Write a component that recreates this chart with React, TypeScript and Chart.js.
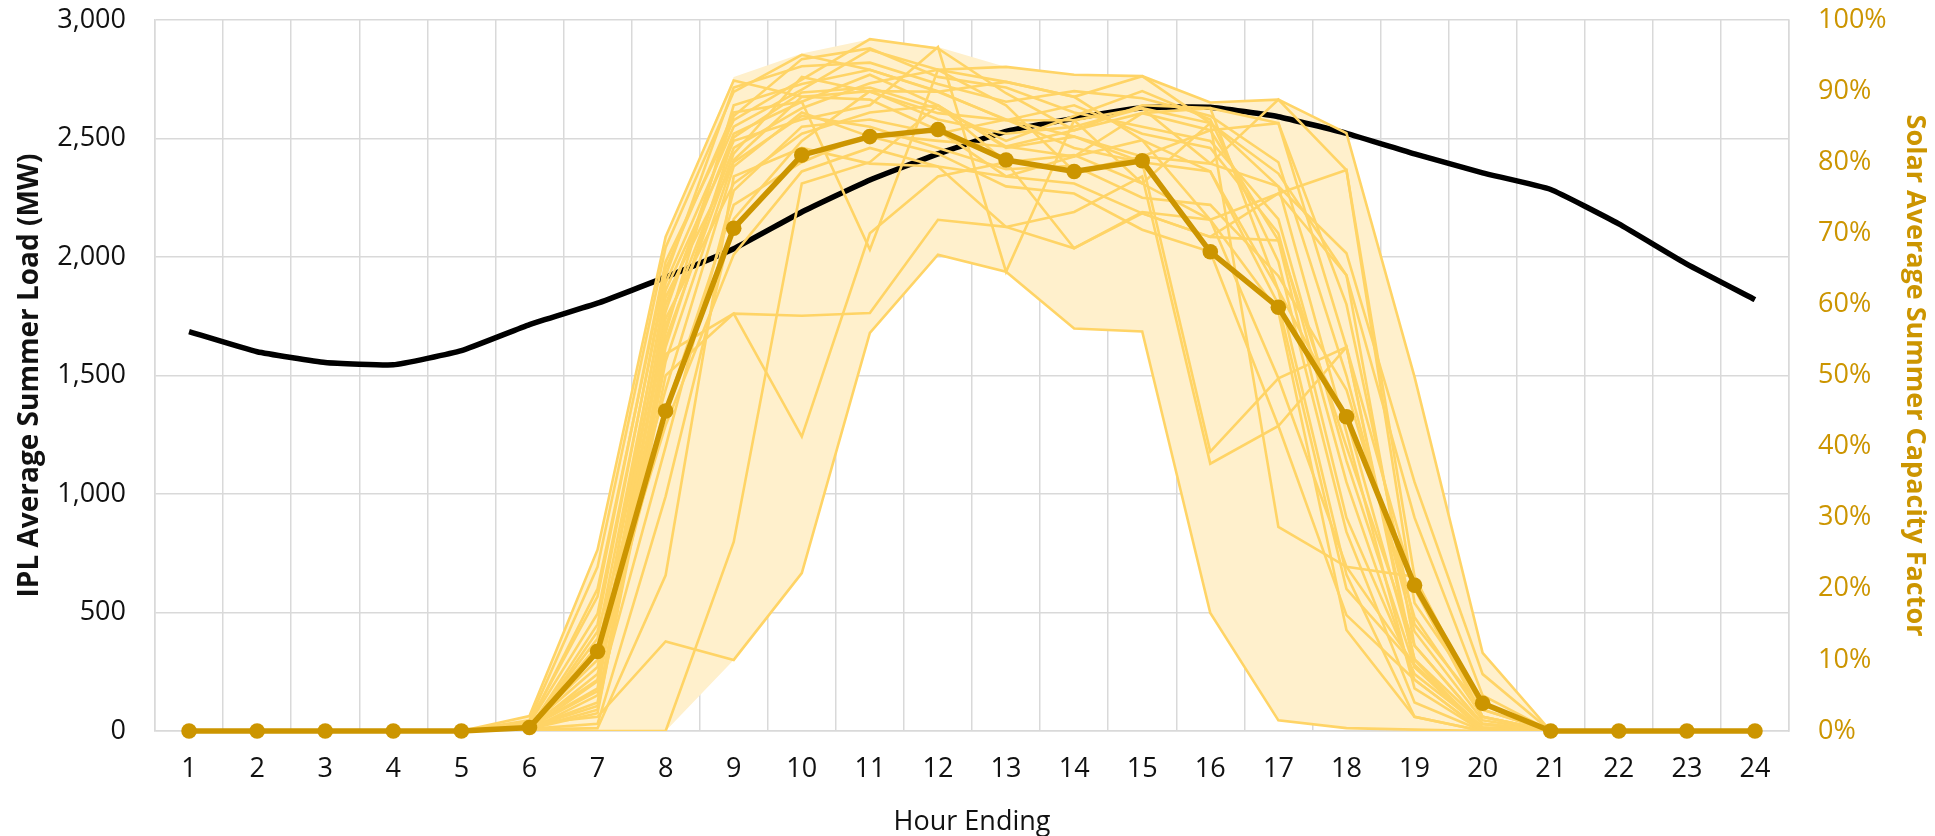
import React, { useEffect, useRef } from 'react';
import { Chart, registerables } from 'chart.js';

Chart.register(...registerables);

const hours = ['1','2','3','4','5','6','7','8','9','10','11','12','13','14','15','16','17','18','19','20','21','22','23','24'];

const loadMW = [1685,1600,1555,1545,1605,1715,1805,1915,2035,2190,2325,2435,2530,2585,2630,2632,2592,2522,2435,2355,2285,2140,1970,1820];
const solarAvg = [0,0,0,0,0,0.5,11.2,45.0,70.7,81.0,83.6,84.6,80.3,78.7,80.2,67.4,59.6,44.2,20.5,3.9,0,0,0,0];
const bandMax = [0,0,0,0,0,2.1,25.7,69.5,92.0,95.3,97.3,96.2,93.4,92.3,92.1,88.4,88.8,84.1,49.8,11.0,0,0,0,0];
const bandMin = [0,0,0,0,0,0,0,0,10.0,22.2,56.0,67.0,64.6,56.6,56.2,16.6,1.5,0.4,0.2,0,0,0,0,0];

const day01 = [0,0,0,0,0,2.1,25.5,69.5,91.5,89.2,90.0,86.0,84.0,85.0,87.6,85.5,78.4,64.1,30.0,5.0,0,0,0,0];
const day02 = [0,0,0,0,0,1.5,23.1,68.0,89.9,95.1,93.0,89.9,86.0,83.6,80.8,79.8,76.6,67.2,35.0,8.0,0,0,0,0];
const day03 = [0,0,0,0,0,1.2,18.9,66.0,85.9,91.6,97.3,96.0,89.7,84.5,88.0,87.6,85.5,54.0,20.0,2.0,0,0,0,0];
const day04 = [0,0,0,0,0,1.0,16.5,63.0,85.0,90.2,95.8,93.0,93.4,92.3,92.1,88.4,88.8,84.1,49.8,11.0,0,0,0,0];
const day05 = [0,0,0,0,0,0.8,7.2,60.0,84.0,88.5,92.3,88.0,82.2,80.8,86.9,84.5,69.0,40.0,12.0,1.0,0,0,0,0];
const day06 = [0,0,0,0,0,0.5,5.6,57.0,82.0,87.6,91.1,93.0,91.3,89.2,83.1,78.7,62.0,44.0,10.1,1.0,0,0,0,0];
const day07 = [0,0,0,0,0,0.5,3.5,55.0,81.2,92.0,89.9,86.9,85.9,85.9,77.0,71.9,49.6,23.1,9.3,0.5,0,0,0,0];
const day08 = [0,0,0,0,0,0.3,2.5,52.0,80.3,89.2,88.8,84.5,78.0,77.0,72.8,69.5,75.6,78.9,21.7,2.0,0,0,0,0];
const day09 = [0,0,0,0,0,0.2,14.0,48.0,79.4,87.0,83.6,81.2,76.6,75.6,70.5,67.4,42.9,16.3,7.2,0,0,0,0,0];
const day10 = [0,0,0,0,0,0.2,0.4,21.9,78.0,82.0,79.8,79.4,70.9,67.9,73.0,71.9,59.0,14.2,2.0,0,0,0,0,0];
const day11 = [0,0,0,0,0,0,0,0,26.6,77.0,80.0,88.0,82.0,83.6,80.0,39.3,49.6,54.0,10.0,0,0,0,0,0];
const day12 = [0,0,0,0,0,1.0,2.0,12.6,10.0,22.2,56.0,67.0,64.6,56.6,56.2,16.6,1.5,0.4,0.2,0,0,0,0,0];
const day13 = [0,0,0,0,0,0.5,4.0,53.0,58.7,41.4,70.0,78.0,80.0,81.0,77.0,85.5,28.7,23.1,21.7,3.0,0,0,0,0];
const day14 = [0,0,0,0,0,0.3,3.0,50.0,58.7,58.4,58.8,71.9,70.9,73.0,78.0,37.6,42.9,54.0,9.0,0,0,0,0,0];
const day15 = [0,0,0,0,0,1.0,20.0,65.0,87.0,88.5,67.7,93.0,88.0,78.7,80.8,84.5,85.5,60.0,15.0,3.0,0,0,0,0];
const day16 = [0,0,0,0,0,0.8,10.0,62.0,83.0,86.0,88.0,96.2,64.6,85.9,87.6,79.8,88.8,78.9,18.0,4.0,0,0,0,0];
const day17 = [0,0,0,0,0,0.5,6.0,58.0,77.0,84.0,87.0,88.0,80.0,67.9,72.8,69.5,69.0,30.0,8.0,0.5,0,0,0,0];
const day18 = [0,0,0,0,0,0.4,8.0,45.0,74.0,80.0,84.0,83.0,82.2,84.5,86.9,87.6,62.0,22.0,2.0,0,0,0,0,0];
const day19 = [0,0,0,0,0,0.6,12.0,43.0,67.0,78.7,82.0,79.4,78.0,80.8,83.1,71.9,75.6,64.1,12.0,1.0,0,0,0,0];
const day20 = [0,0,0,0,0,0.3,1.0,33.0,72.0,83.0,90.0,89.9,91.3,89.2,92.1,85.5,76.6,42.0,6.0,0,0,0,0,0];
const day21 = [0,0,0,0,0,0.7,9.0,56.0,88.0,91.0,93.0,90.0,85.9,88.0,84.0,82.0,70.0,35.0,7.2,0,0,0,0,0];
const day22 = [0,0,0,0,0,0.2,5.0,40.0,76.0,85.0,86.0,84.0,86.0,82.0,80.0,78.7,60.0,20.0,9.3,0,0,0,0,0];
const day23 = [0,0,0,0,0,0.4,15.0,64.0,90.5,93.5,94.0,91.0,88.5,90.0,89.0,86.5,80.0,50.0,14.0,1.5,0,0,0,0];
const day24 = [0,0,0,0,0,0.6,11.0,59.0,86.5,94.5,96.0,92.0,90.5,87.0,85.0,83.0,72.0,38.0,9.0,0.5,0,0,0,0];
const day25 = [0,0,0,0,0,0.3,7.0,54.0,83.5,89.8,90.5,87.5,83.0,86.5,90.0,86.0,66.0,28.0,4.0,0,0,0,0,0];
const day26 = [0,0,0,0,0,0.5,13.0,61.0,80.0,86.5,85.0,82.0,79.0,79.5,75.0,74.0,64.0,48.0,16.0,2.0,0,0,0,0];

const dailyProfiles = [day01,day02,day03,day04,day05,day06,day07,day08,day09,day10,day11,day12,day13,day14,day15,day16,day17,day18,day19,day20,day21,day22,day23,day24,day25,day26];

const GOLD = '#CC9500';
const LIGHT = '#FFD466';
const BAND = '#FFF0CC';
const GRID = '#D9D9D9';
const FONT = "'Open Sans', sans-serif";

export default function App() {
  const ref = useRef<HTMLCanvasElement | null>(null);

  useEffect(() => {
    if (!ref.current) return;
    const dailySets = dailyProfiles.map((d) => ({
      type: 'line' as const,
      data: d,
      yAxisID: 'y1',
      borderColor: LIGHT,
      borderWidth: 2.6,
      pointRadius: 0,
      fill: false,
      tension: 0,
      order: 1,
    }));
    const chart = new Chart(ref.current, {
      type: 'line',
      data: {
        labels: hours,
        datasets: [
          {
            data: bandMax,
            yAxisID: 'y1',
            borderWidth: 0,
            borderColor: 'rgba(0,0,0,0)',
            backgroundColor: BAND,
            pointRadius: 0,
            fill: '+1',
            tension: 0,
            order: 3,
          },
          {
            data: bandMin,
            yAxisID: 'y1',
            borderWidth: 0,
            borderColor: 'rgba(0,0,0,0)',
            pointRadius: 0,
            fill: false,
            tension: 0,
            order: 3,
          },
          {
            data: loadMW,
            yAxisID: 'y',
            borderColor: '#000000',
            borderWidth: 5.5,
            pointRadius: 0,
            fill: false,
            tension: 0.12,
            order: 2,
          },
          ...dailySets,
          {
            data: solarAvg,
            yAxisID: 'y1',
            borderColor: GOLD,
            backgroundColor: GOLD,
            borderWidth: 5.5,
            pointRadius: 7.8,
            pointBorderWidth: 0,
            pointBackgroundColor: GOLD,
            fill: false,
            tension: 0,
            order: 0,
            clip: false,
          },
        ] as any,
      },
      options: {
        animation: false,
        responsive: false,
        layout: { padding: { top: 20, left: 0, right: 0, bottom: 0 } },
        plugins: { legend: { display: false }, tooltip: { enabled: false } },
        scales: {
          x: {
            offset: true,
            grid: { offset: true, color: GRID, lineWidth: 1.5, drawTicks: false },
            border: { color: GRID, width: 1.5 },
            ticks: { color: '#111', font: { family: FONT, size: 27 }, padding: 22, maxRotation: 0, autoSkip: false },
            title: { display: true, text: 'Hour Ending', color: '#111', font: { family: FONT, size: 27 }, padding: { top: 0, bottom: -3 } },
            afterFit: (s: any) => { s.height = 105; },
          },
          y: {
            position: 'left',
            min: 0,
            max: 3000,
            grid: { color: GRID, lineWidth: 1.5, drawTicks: false },
            border: { color: GRID, width: 1.5 },
            ticks: {
              stepSize: 500,
              color: '#111',
              font: { family: FONT, size: 27 },
              padding: 29,
              callback: (v: any) => Number(v).toLocaleString('en-US'),
            },
            title: { display: true, text: 'IPL Average Summer Load (MW)', color: '#111', font: { family: FONT, size: 28, weight: 'bold' }, padding: { top: 13, bottom: 0 } },
            afterFit: (s: any) => { s.width = 155; s.paddingTop = 10; s.paddingBottom = 10; },
          },
          y1: {
            position: 'right',
            min: 0,
            max: 100,
            grid: { display: false, drawTicks: false },
            border: { color: GRID, width: 1.5 },
            ticks: {
              stepSize: 10,
              color: GOLD,
              font: { family: FONT, size: 27 },
              padding: 29,
              callback: (v: any) => v + '%',
            },
            title: { display: true, text: 'Solar Average Summer Capacity Factor', color: GOLD, font: { family: FONT, size: 27, weight: 'bold' }, padding: { top: 4, bottom: 0 } },
            afterFit: (s: any) => { s.width = 146; s.paddingTop = 10; s.paddingBottom = 10; },
          },
        },
      } as any,
    });
    return () => chart.destroy();
  }, []);

  return (
    <div style={{ position: 'fixed', left: 0, top: 0, width: 1935, height: 836, background: '#fff' }}>
      <canvas ref={ref} width={1935} height={836} style={{ display: 'block', width: 1935, height: 836 }} />
    </div>
  );
}
